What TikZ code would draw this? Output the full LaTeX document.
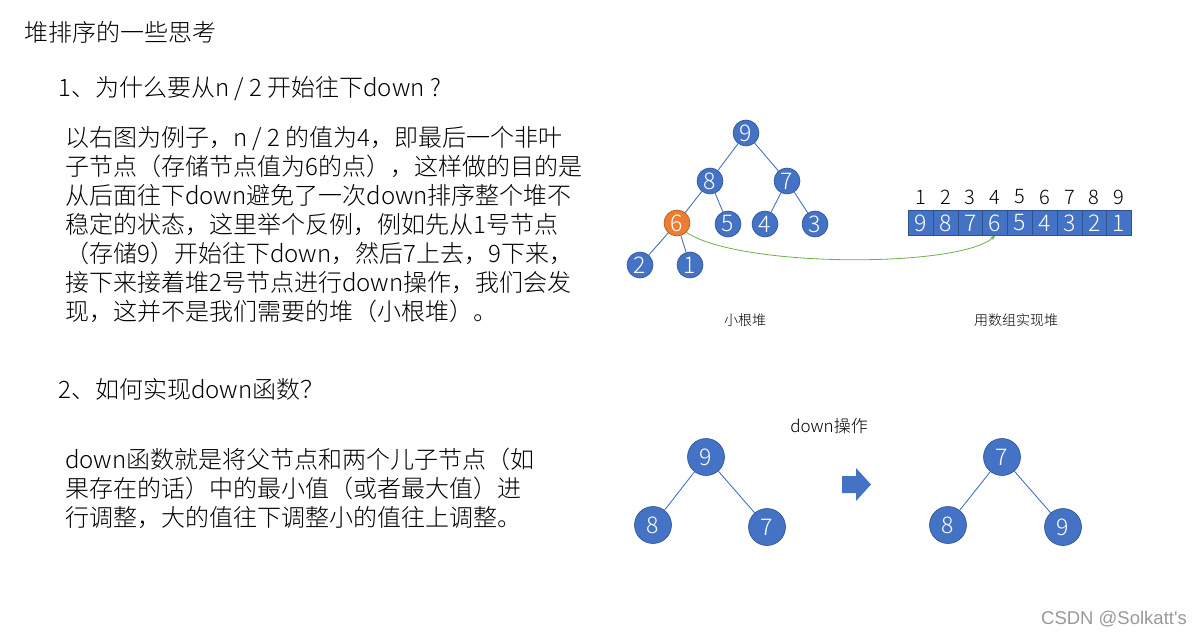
\documentclass[tikz,border=0pt]{standalone}
\usepackage{fontspec}
\setmainfont{Noto Sans CJK SC}[UprightFont=* Light]
\newfontfamily\markfont{Liberation Sans}[Ligatures=TeXOff]
\usetikzlibrary{arrows.meta}

\definecolor{heapblue}{HTML}{4472C4}
\definecolor{heapline}{HTML}{2F528F}
\definecolor{heaporange}{HTML}{ED7D31}
\definecolor{heapgreen}{HTML}{70AD47}

\tikzset{
  heapnode/.style={draw=heapline,line width=0.6pt,circle,fill=heapblue,text=white,inner sep=0pt,minimum size=26pt,font=\fontsize{23}{23}\selectfont},
  bignode/.style={heapnode,minimum size=37pt},
  tree/.style={heapblue,line width=0.9pt},
  cell/.style={draw=heapline,line width=0.6pt,fill=heapblue,text=white,inner sep=0pt,minimum width=24.8pt,minimum height=24.5pt,font=\fontsize{23}{23}\selectfont},
  bodytext/.style={anchor=north west,align=left,inner sep=0pt,font=\fontsize{24}{29}\selectfont},
  caption/.style={font=\fontsize{14}{14}\selectfont}
}

\begin{document}
\begin{tikzpicture}[x=1pt,y=-1pt]
  \useasboundingbox (0,0) rectangle (1204,636);

  %% Text
  \node[bodytext,anchor=west] (title) at (24,32) {堆排序的一些思考};
  \node[bodytext,anchor=west] (q1) at (58,89) {1、为什么要从n / 2 开始往下down ?};
  \node[bodytext] (p1) at (65,126) {以右图为例子，n / 2 的值为4，即最后一个非叶\\
    子节点（存储节点值为6的点），这样做的目的是\\
    从后面往下down避免了一次down排序整个堆不\\
    稳定的状态，这里举个反例，例如先从1号节点\\
    （存储9）开始往下down，然后7上去，9下来，\\
    接下来接着堆2号节点进行down操作，我们会发\\
    现，这并不是我们需要的堆（小根堆）。};
  \node[bodytext,anchor=west] (q2) at (58,389) {2、如何实现down函数？};
  \node[bodytext] (p2) at (65,448) {down函数就是将父节点和两个儿子节点（如\\
    果存在的话）中的最小值（或者最大值）进\\
    行调整，大的值往下调整小的值往上调整。};

  %% Heap as tree
  \node[heapnode] (n9) at (746,133) {9};
  \node[heapnode] (n8) at (710,181) {8};
  \node[heapnode] (n7) at (787,181) {7};
  \node[heapnode,fill=heaporange,draw=heaporange!70!black] (n6) at (677,223) {6};
  \node[heapnode] (n5) at (728,224) {5};
  \node[heapnode] (n4) at (765,224) {4};
  \node[heapnode] (n3) at (815,224) {3};
  \node[heapnode] (n2) at (640,265) {2};
  \node[heapnode] (n1) at (690,265) {1};
  \draw[tree] (n9) -- (n8);
  \draw[tree] (n9) -- (n7);
  \draw[tree] (n8) -- (n6);
  \draw[tree] (n8) -- (n5);
  \draw[tree] (n7) -- (n4);
  \draw[tree] (n7) -- (n3);
  \draw[tree] (n6) -- (n2);
  \draw[tree] (n6) -- (n1);
  \node[caption] (cap1) at (745,320) {小根堆};

  %% Heap as array
  \foreach \v [count=\i] in {9,8,7,6,5,4,3,2,1} {
    \node[cell] (c\i) at (908.3+24.8*\i-12.4,223) {\v};
    \node[font=\fontsize{20}{20}\selectfont] (i\i) at (908.3+24.8*\i-12.4,197) {\i};
  }
  \node[caption] (cap2) at (1016,320) {用数组实现堆};
  \draw[heapgreen,line width=0.8pt,-{Stealth[length=5pt,width=4pt]}] (n6.-45) .. controls (740,268) and (960,268) .. (c4.south);

  %% down operation
  \node[font=\fontsize{17}{17}\selectfont] (op) at (829,426) {down操作};
  \node[bignode] (a9) at (706,457) {9};
  \node[bignode] (a8) at (653,525) {8};
  \node[bignode] (a7) at (767,527) {7};
  \draw[tree] (a9) -- (a8);
  \draw[tree] (a9) -- (a7);
  \fill[heapblue] (842,476) -- (856,476) -- (856,468) -- (871,484.5) -- (856,501) -- (856,493) -- (842,493) -- cycle;
  \node[bignode] (b7) at (1002,457) {7};
  \node[bignode] (b8) at (948,525) {8};
  \node[bignode] (b9) at (1063,527) {9};
  \draw[tree] (b7) -- (b8);
  \draw[tree] (b7) -- (b9);

  \node[font=\markfont\fontsize{18.5}{18.5}\selectfont,text=black!40] (mark) at (1114,619) {CSDN @Solkatt's};
\end{tikzpicture}
\end{document}
